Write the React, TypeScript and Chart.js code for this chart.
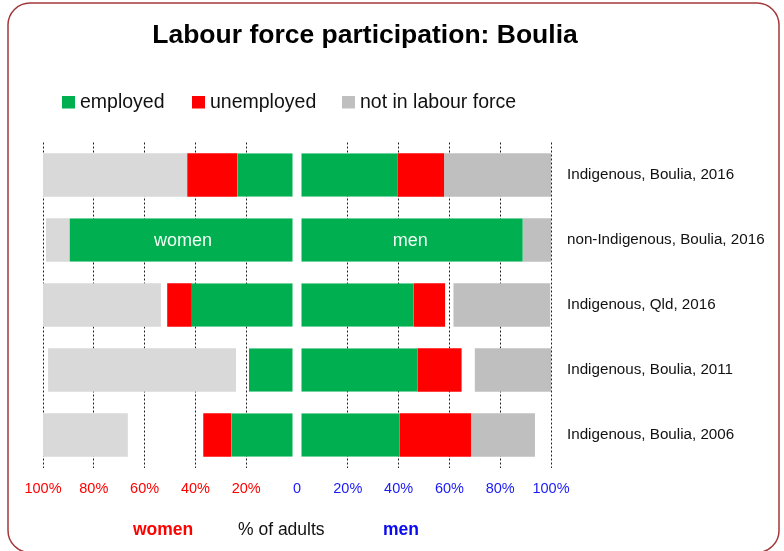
import { useEffect, useRef } from 'react';
import { Chart, registerables } from 'chart.js';

Chart.register(...registerables);

const categories = [
  'Indigenous, Boulia, 2016',
  'non-Indigenous, Boulia, 2016',
  'Indigenous, Qld, 2016',
  'Indigenous, Boulia, 2011',
  'Indigenous, Boulia, 2006',
];

// women (plotted to the left)
const womenEmployed = [23.5, 89.6, 41.4, 18.9, 25.9];
const womenUnemployed = [19.7, 0, 9.7, 0, 11.0];
const womenNotStated = [0, 0, 2.5, 5.1, 29.7];
const womenNotInLabourForce = [56.8, 9.2, 46.4, 74.0, 33.4];

// men (plotted to the right)
const menEmployed = [39.5, 88.9, 46.0, 47.4, 40.5];
const menUnemployed = [18.4, 0, 12.3, 17.4, 28.0];
const menNotStated = [0, 0, 3.3, 5.2, 0];
const menNotInLabourForce = [42.1, 11.1, 38.1, 30.0, 25.2];

const xTickValues = [-100, -80, -60, -40, -20, 0, 20, 40, 60, 80, 100];

const legendItems = [
  { label: 'employed', color: '#00AF50' },
  { label: 'unemployed', color: '#FF0000' },
  { label: 'not in labour force', color: '#BFBFBF' },
];

const FONT = '"Liberation Sans", Arial, Helvetica, sans-serif';
const GREEN = '#00AF50';
const RED = '#FF0000';
const GREY_L = '#D9D9D9';
const GREY_R = '#BFBFBF';

const neg = (a: number[]) => a.map((v) => -v);

const decorPlugin = {
  id: 'decor',
  afterDraw(chart: any) {
    const ctx = chart.ctx;
    ctx.save();
    // rounded frame
    ctx.strokeStyle = '#A3383A';
    ctx.lineWidth = 1.5;
    ctx.beginPath();
    ctx.roundRect(8, 3, 771, 549.5, 22);
    ctx.stroke();

    // title
    ctx.fillStyle = '#000';
    ctx.font = `bold 26.5px ${FONT}`;
    ctx.textAlign = 'center';
    ctx.textBaseline = 'middle';
    ctx.fillText('Labour force participation: Boulia', 365, 36);

    // legend
    const lx = [62, 192, 342];
    ctx.textAlign = 'left';
    ctx.font = `19.5px ${FONT}`;
    legendItems.forEach((it, i) => {
      ctx.fillStyle = it.color;
      ctx.fillRect(lx[i], 96, 13, 12.5);
      ctx.fillStyle = '#111';
      ctx.fillText(it.label, lx[i] + 18, 102.5);
    });

    // labels inside the non-Indigenous bars
    const wBar = chart.getDatasetMeta(0).data[1];
    const mBar = chart.getDatasetMeta(4).data[1];
    ctx.fillStyle = '#F2FFF6';
    ctx.font = `18px ${FONT}`;
    ctx.textAlign = 'center';
    if (wBar) ctx.fillText('women', (wBar.x + wBar.base) / 2, wBar.y + 1);
    if (mBar) ctx.fillText('men', (mBar.x + mBar.base) / 2, mBar.y + 1);

    // bottom captions
    ctx.textAlign = 'left';
    ctx.font = `bold 17.5px ${FONT}`;
    ctx.fillStyle = '#FF0000';
    ctx.fillText('women', 133, 530);
    ctx.font = `17.5px ${FONT}`;
    ctx.fillStyle = '#111';
    ctx.fillText('% of adults', 238, 530);
    ctx.font = `bold 17.5px ${FONT}`;
    ctx.fillStyle = '#0A0AF0';
    ctx.fillText('men', 383, 530);
    ctx.restore();
  },
};

export default function App() {
  const ref = useRef<HTMLCanvasElement | null>(null);

  useEffect(() => {
    if (!ref.current) return;
    const common = { stack: 's', borderSkipped: false as any, categoryPercentage: 1, barPercentage: 0.67 };
    const chart = new Chart(ref.current, {
      type: 'bar',
      data: {
        labels: categories,
        datasets: [
          { ...common, label: 'women employed', data: neg(womenEmployed), backgroundColor: GREEN, borderColor: '#FFFFFF', borderWidth: { right: 4, left: 0, top: 0, bottom: 0 } as any },
          { ...common, label: 'women unemployed', data: neg(womenUnemployed), backgroundColor: RED, borderWidth: 0 },
          { ...common, label: 'women not stated', data: neg(womenNotStated), backgroundColor: 'rgba(0,0,0,0)', borderWidth: 0 },
          { ...common, label: 'women not in labour force', data: neg(womenNotInLabourForce), backgroundColor: GREY_L, borderWidth: 0 },
          { ...common, label: 'men employed', data: menEmployed, backgroundColor: GREEN, borderColor: '#FFFFFF', borderWidth: { left: 4, right: 0, top: 0, bottom: 0 } as any },
          { ...common, label: 'men unemployed', data: menUnemployed, backgroundColor: RED, borderWidth: 0 },
          { ...common, label: 'men not stated', data: menNotStated, backgroundColor: 'rgba(0,0,0,0)', borderWidth: 0 },
          { ...common, label: 'men not in labour force', data: menNotInLabourForce, backgroundColor: GREY_R, borderWidth: 0 },
        ],
      },
      options: {
        indexAxis: 'y',
        responsive: false,
        animation: false,
        events: [],
        layout: { padding: { left: 43, top: 142.5, right: 0, bottom: 0 } },
        plugins: {
          legend: { display: false },
          title: { display: false },
          tooltip: { enabled: false },
        },
        scales: {
          x: {
            stacked: true,
            min: -100,
            max: 100,
            position: 'bottom',
            afterBuildTicks: (s: any) => {
              s.ticks = xTickValues.map((v) => ({ value: v }));
            },
            afterFit: (s: any) => {
              s.height = 551 - 467.5;
            },
            ticks: {
              autoSkip: false,
              maxRotation: 0,
              padding: 13,
              font: { family: FONT, size: 14.5 },
              color: (c: any) => (c.tick && c.tick.value < 0 ? '#FF0000' : '#1A1AF5'),
              callback: (v: any) => (Number(v) === 0 ? '0' : Math.abs(Number(v)) + '%'),
            },
            grid: {
              drawTicks: false,
              lineWidth: 1,
              color: (c: any) => (c.tick && c.tick.value === 0 ? 'rgba(0,0,0,0)' : '#222222'),
            },
            border: { display: false, dash: [2, 2] },
          },
          y: {
            stacked: true,
            position: 'right',
            afterFit: (s: any) => {
              s.width = 784 - 551;
            },
            grid: { display: false, drawTicks: false },
            border: { display: false },
            ticks: {
              padding: 16,
              color: '#111',
              font: { family: FONT, size: 15.2 },
            },
          },
        },
      },
      plugins: [decorPlugin],
    });
    return () => chart.destroy();
  }, []);

  return (
    <div style={{ position: 'absolute', left: 0, top: 0, width: 784, height: 551, background: '#fff' }}>
      <canvas ref={ref} width={784} height={551} style={{ display: 'block', width: 784, height: 551 }} />
    </div>
  );
}
